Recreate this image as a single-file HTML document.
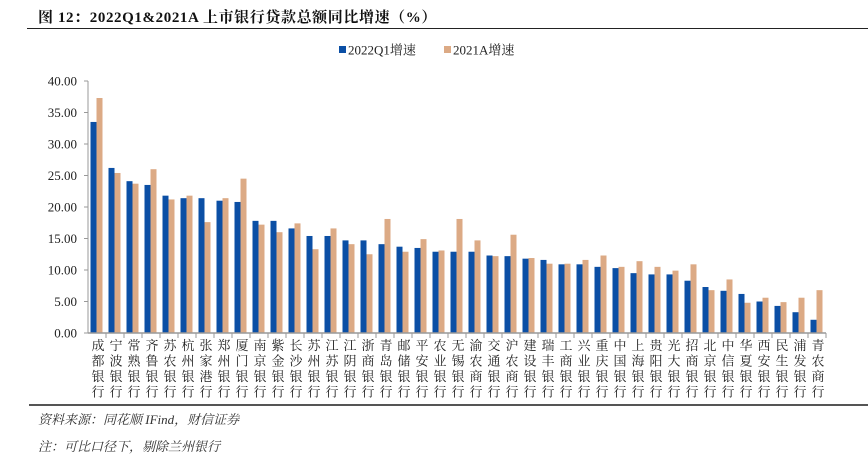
<!DOCTYPE html>
<html><head><meta charset="utf-8"><style>
body{margin:0;width:868px;height:444px;background:#fff;overflow:hidden;position:relative;font-family:"Liberation Serif","Noto Serif CJK SC",serif}
.t{position:absolute;left:38px;top:6px;font-size:15px;font-weight:bold;color:#111;letter-spacing:0.6px}
.hl{position:absolute;left:27px;right:0;top:28px;border-top:1.5px solid #222}
.bl{position:absolute;left:29px;right:0;top:404px;border-top:2px solid #555}
.src{position:absolute;left:38px;top:409px;font-size:13px;font-style:italic;color:#333}
.src2{position:absolute;left:38px;top:436px;font-size:13px;font-style:italic;color:#333}
</style></head><body>
<div class="t">图 12：2022Q1&amp;2021A 上市银行贷款总额同比增速（%）</div>
<div class="hl"></div>
<svg id="c" width="868" height="444" style="position:absolute;left:0;top:0"></svg>
<div class="bl"></div>
<div class="src">资料来源：同花顺 IFind，财信证券</div>
<div class="src2">注：可比口径下，剔除兰州银行</div>
<script>
const categories=["成都银行","宁波银行","常熟银行","齐鲁银行","苏农银行","杭州银行","张家港行","郑州银行","厦门银行","南京银行","紫金银行","长沙银行","苏州银行","江苏银行","江阴银行","浙商银行","青岛银行","邮储银行","平安银行","农业银行","无锡银行","渝农商行","交通银行","沪农商行","建设银行","瑞丰银行","工商银行","兴业银行","重庆银行","中国银行","上海银行","贵阳银行","光大银行","招商银行","北京银行","中信银行","华夏银行","西安银行","民生银行","浦发银行","青农商行"];
const q1_2022=[33.5,26.2,24.1,23.5,21.8,21.4,21.4,21.0,20.8,17.8,17.8,16.6,15.4,15.4,14.7,14.7,14.1,13.7,13.5,12.9,12.9,12.9,12.3,12.2,11.8,11.6,10.9,10.9,10.5,10.3,9.5,9.3,9.3,8.3,7.3,6.7,6.2,5.0,4.3,3.3,2.1];
const a_2021=[37.3,25.4,23.7,26.0,21.2,21.8,17.6,21.4,24.5,17.2,16.0,17.4,13.3,16.6,14.1,12.5,18.1,12.9,14.9,13.1,18.1,14.7,12.2,15.6,11.9,11.0,11.0,11.6,12.3,10.5,11.4,10.5,9.9,10.9,6.8,8.5,4.8,5.6,4.9,5.6,6.8];
const yTicks=[0,5,10,15,20,25,30,35,40];
const seriesNames=["2022Q1增速","2021A增速"];
const NS="http://www.w3.org/2000/svg",svg=document.getElementById('c');
const x0=88,x1=826,y0=333,y1=81,yMax=40;
const bw=(x1-x0)/categories.length;
const y=v=>y0-(v/yMax)*(y0-y1);
const xc=i=>x0+bw*(i+0.5);
function mk(t,a){const e=document.createElementNS(NS,t);for(const k in a)e.setAttribute(k,a[k]);svg.appendChild(e);return e;}
yTicks.forEach(v=>{
 const t=mk('text',{x:77,y:y(v)+4.5,'text-anchor':'end','font-size':13,fill:'#222','font-family':'Liberation Serif,serif'});
 t.textContent=v.toFixed(2);
 
 
 const k=mk('line',{x1:x0-4,x2:x0,y1:y(v),y2:y(v),stroke:'#999'});
 
 
});
const ya=mk('line',{x1:x0,x2:x0,y1:y1,y2:y0,stroke:'#999'});


categories.forEach((c,i)=>{
 const b1=mk('rect',{x:xc(i)-6.5,y:y(q1_2022[i]),width:6,height:y0-y(q1_2022[i]),fill:'#0b4fa5'});
 
 
 const b2=mk('rect',{x:xc(i)-0.5,y:y(a_2021[i]),width:6,height:y0-y(a_2021[i]),fill:'#dcaa85'});
 
 
 const tk=mk('line',{x1:x0+bw*(i+1),x2:x0+bw*(i+1),y1:y0,y2:y0+5,stroke:'#999'});
 
 
 const t=mk('text',{'text-anchor':'middle','font-size':13,fill:'#222','font-family':'Noto Serif CJK SC,serif'});
 
 
 [...c].forEach((ch,j)=>{
  const s=document.createElementNS(NS,'tspan');
  s.setAttribute('x',xc(i)+1);
  s.setAttribute('y',y0+17+j*15.5);
  s.textContent=ch;
  t.appendChild(s);
 });
});
const xa=mk('line',{x1:x0,x2:x1,y1:y0,y2:y0,stroke:'#999','stroke-width':1.5});


const lx=[339,444],cols=['#0b4fa5','#dcaa85'];
seriesNames.forEach((n,i)=>{
 const r=mk('rect',{x:lx[i],y:46,width:7,height:7,fill:cols[i]});
 
 
 const t=mk('text',{x:lx[i]+9,y:54.5,'font-size':13,fill:'#222','font-family':'Liberation Serif,Noto Serif CJK SC,serif'});
 t.textContent=n;
 
 
});
</script>
</body></html>
